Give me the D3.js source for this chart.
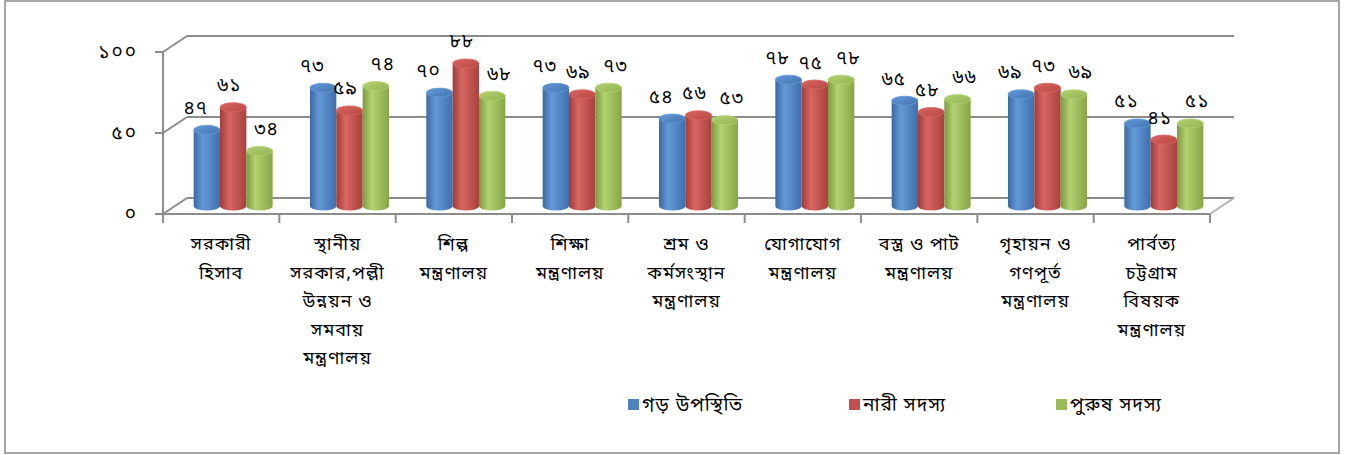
<!DOCTYPE html>
<html>
<head>
<meta charset="utf-8">
<script src="https://cdn.jsdelivr.net/npm/d3@7"></script>
<style>
  body { margin: 0; background: #fff; }
  text { font-family: "Noto Sans Bengali", "Noto Serif Bengali", "Lohit Bengali", "FreeSans", "Noto Sans", sans-serif; fill: #000; }
</style>
</head>
<body>
<script>
// chart data
var categories = [
  "সরকারী\nহিসাব",
  "স্থানীয়\nসরকার,পল্লী\nউন্নয়ন ও\nসমবায়\nমন্ত্রণালয়",
  "শিল্প\nমন্ত্রণালয়",
  "শিক্ষা\nমন্ত্রণালয়",
  "শ্রম ও\nকর্মসংস্থান\nমন্ত্রণালয়",
  "যোগাযোগ\nমন্ত্রণালয়",
  "বস্ত্র ও পাট\nমন্ত্রণালয়",
  "গৃহায়ন ও\nগণপূর্ত\nমন্ত্রণালয়",
  "পার্বত্য\nচট্টগ্রাম\nবিষয়ক\nমন্ত্রণালয়"
];
var seriesNames = ["গড় উপস্থিতি", "নারী সদস্য", "পুরুষ সদস্য"];
var avgValues   = [47, 73, 70, 73, 54, 78, 65, 69, 51];
var womenValues = [61, 59, 88, 69, 56, 75, 58, 73, 41];
var menValues   = [34, 74, 68, 73, 53, 78, 66, 69, 51];
var yTicks = [0, 50, 100];

var seriesValues = [avgValues, womenValues, menValues];
var legendColors = ["#4f81bd", "#c0504d", "#9bbb59"];
var colors = [
  {edge: "#3a69a2", light: "#6499d8", right: "#3e6fad", top: "#4174b0"},
  {edge: "#a03b38", light: "#d86662", right: "#a8413e", top: "#b84742"},
  {edge: "#7c9a3e", light: "#b3d272", right: "#86a646", top: "#92b251"}
];
// labels are spread sideways per series so they don't run together
var labelDx = [-11, -4, 7];

function bn(n) {
  return String(n).replace(/[0-9]/g, function(c){ return "০১২৩৪৫৬৭৮৯"[+c]; });
}

var W = 1356, H = 455;
var depth = {dx: 24, dy: -16};
var x0 = 163, x1 = 1210;

var svg = d3.select("body").append("svg")
  .attr("width", W).attr("height", H);

// outer border
svg.append("rect")
  .attr("x", 5).attr("y", 1).attr("width", 1334).attr("height", 452)
  .attr("fill", "#fff").attr("stroke", "#a6a6a6").attr("stroke-width", 2);

var x = d3.scaleBand().domain(d3.range(categories.length)).range([x0, x1]);
var y = d3.scaleLinear().domain([0, 100]).range([214, 52]);

var defs = svg.append("defs");
colors.forEach(function(c, i){
  var g = defs.append("linearGradient").attr("id", "body" + i)
    .attr("x1", 0).attr("x2", 1).attr("y1", 0).attr("y2", 0);
  g.append("stop").attr("offset", "0%").attr("stop-color", c.edge);
  g.append("stop").attr("offset", "35%").attr("stop-color", c.light);
  g.append("stop").attr("offset", "100%").attr("stop-color", c.right);
  var t = defs.append("linearGradient").attr("id", "top" + i)
    .attr("x1", 0).attr("x2", 1).attr("y1", 0).attr("y2", 1);
  t.append("stop").attr("offset", "0%").attr("stop-color", c.light);
  t.append("stop").attr("offset", "100%").attr("stop-color", c.top);
});

var lineCol = "#8c8c8c";

// back wall gridlines + left wall
yTicks.forEach(function(v){
  svg.append("line")
    .attr("x1", x0 + depth.dx).attr("x2", x1 + depth.dx)
    .attr("y1", y(v) + depth.dy).attr("y2", y(v) + depth.dy)
    .attr("stroke", lineCol).attr("stroke-width", 2);
  svg.append("line")
    .attr("x1", x0).attr("x2", x0 + depth.dx)
    .attr("y1", y(v)).attr("y2", y(v) + depth.dy)
    .attr("stroke", lineCol).attr("stroke-width", 2);
});
// right floor edge
svg.append("line")
  .attr("x1", x1).attr("x2", x1 + depth.dx)
  .attr("y1", y(0)).attr("y2", y(0) + depth.dy)
  .attr("stroke", "#b0b0b0").attr("stroke-width", 2);

// front value axis
svg.append("line")
  .attr("x1", x0).attr("x2", x0).attr("y1", y(0)).attr("y2", y(100))
  .attr("stroke", lineCol).attr("stroke-width", 2);
yTicks.forEach(function(v){
  svg.append("line")
    .attr("x1", x0 - 8).attr("x2", x0).attr("y1", y(v)).attr("y2", y(v))
    .attr("stroke", lineCol).attr("stroke-width", 2);
  svg.append("text")
    .attr("x", 138).attr("y", y(v) + 6)
    .attr("text-anchor", "end").attr("font-size", 19)
    .attr("letter-spacing", 2)
    .text(bn(v));
});

// front category axis
svg.append("line")
  .attr("x1", x0 - 6).attr("x2", x1).attr("y1", y(0)).attr("y2", y(0))
  .attr("stroke", lineCol).attr("stroke-width", 2);
d3.range(categories.length + 1).forEach(function(i){
  var xx = i < categories.length ? x(i) : x1;
  svg.append("line")
    .attr("x1", xx).attr("x2", xx).attr("y1", y(0)).attr("y2", y(0) + 9)
    .attr("stroke", lineCol).attr("stroke-width", 2);
});

// category labels
categories.forEach(function(c, i){
  var t = svg.append("text")
    .attr("text-anchor", "middle").attr("font-size", 18)
    .attr("letter-spacing", 1);
  c.split("\n").forEach(function(line, j){
    t.append("tspan")
      .attr("x", x(i) + x.bandwidth() / 2)
      .attr("y", 250 + j * 28.6)
      .text(line);
  });
});

// bars: cylinders placed at mid depth
var mid = {dx: depth.dx / 2, dy: depth.dy / 2};
var inner = d3.scaleBand().domain(d3.range(seriesNames.length))
  .range([0, 79]);
var groupOff = (x.bandwidth() - 79) / 2 + mid.dx;
var ry = 4.5;

var labels = [];
seriesValues.forEach(function(vals, s){
  vals.forEach(function(v, i){
    var bx = x(i) + groupOff + inner(s);
    var bw = inner.bandwidth();
    var rx = bw / 2;
    var yb = y(0) + mid.dy;
    var yt = y(v) + mid.dy;
    var g = svg.append("g");
    g.append("path")
      .attr("d", "M" + bx + "," + yt +
        " L" + bx + "," + yb +
        " A" + rx + "," + ry + " 0 0 0 " + (bx + bw) + "," + yb +
        " L" + (bx + bw) + "," + yt + " Z")
      .attr("fill", "url(#body" + s + ")");
    g.append("ellipse")
      .attr("cx", bx + rx).attr("cy", yt)
      .attr("rx", rx).attr("ry", ry)
      .attr("fill", "url(#top" + s + ")")
      .attr("stroke", colors[s].light).attr("stroke-width", 0.8);
    labels.push({x: bx + rx + labelDx[s], y: yt - 16, v: v});
  });
});

labels.forEach(function(l){
  svg.append("text")
    .attr("x", l.x).attr("y", l.y)
    .attr("text-anchor", "middle").attr("font-size", 19)
    .attr("letter-spacing", 1)
    .text(bn(l.v));
});

// legend
var legendX = [628, 849, 1056];
seriesNames.forEach(function(n, i){
  svg.append("rect")
    .attr("x", legendX[i]).attr("y", 399)
    .attr("width", 11).attr("height", 11)
    .attr("fill", legendColors[i]);
  svg.append("text")
    .attr("x", legendX[i] + 14).attr("y", 411)
    .attr("font-size", 19)
    .attr("letter-spacing", 1)
    .text(n);
});
</script>
</body>
</html>
